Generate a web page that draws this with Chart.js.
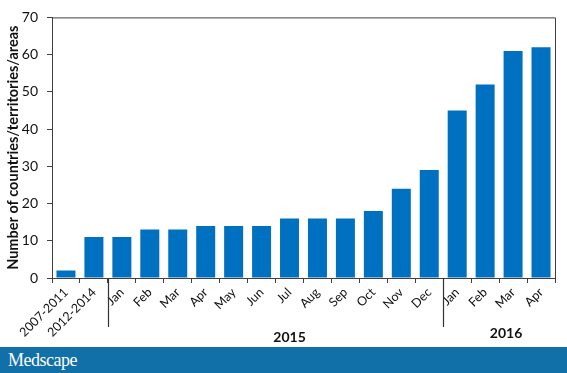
<!DOCTYPE html>
<html>
<head>
<meta charset="utf-8">
<script src="https://cdn.jsdelivr.net/npm/chart.js@4.4.1/dist/chart.umd.min.js"></script>
<style>
html,body{margin:0;padding:0;background:#fff;width:567px;height:373px;overflow:hidden;}
#wrap{position:relative;width:567px;height:347px;}
#footer{position:absolute;left:0;top:347px;width:567px;height:26px;background:#1170a7;}
#footer span{position:absolute;left:8px;top:3px;color:#fff;font-family:"Liberation Serif","DejaVu Serif",serif;font-size:18px;letter-spacing:-0.5px;}
</style>
</head>
<body>
<div id="wrap"><canvas id="c"></canvas></div>
<div id="footer"><span>Medscape</span></div>
<script>
const categories = ["2007-2011","2012-2014","Jan","Feb","Mar","Apr","May","Jun","Jul","Aug","Sep","Oct","Nov","Dec","Jan","Feb","Mar","Apr"];
const counts = [2,11,11,13,13,14,14,14,16,16,16,18,24,29,45,52,61,62];
const yTicks = [0,10,20,30,40,50,60,70];
const yearLabels = ["2015","2016"];
const yearPositions = [8, 15.75];
const separators = [1.5, 13.5];

const decor = {
  id:'decor',
  afterDraw(chart){
    const ctx = chart.ctx, a = chart.chartArea, xs = chart.scales.x;
    ctx.save();
    ctx.strokeStyle = '#404040';
    ctx.lineWidth = 1;
    ctx.beginPath();
    ctx.moveTo(a.left, a.top + 0.5);
    ctx.lineTo(a.right + 0.5, a.top + 0.5);
    ctx.lineTo(a.right + 0.5, a.bottom);
    ctx.stroke();
    ctx.strokeStyle = '#333';
    ctx.lineWidth = 1.2;
    separators.forEach(v=>{
      const x = Math.round(xs.getPixelForValue(v)) + 0.5;
      ctx.beginPath();
      ctx.moveTo(x, a.bottom);
      ctx.lineTo(x, a.bottom + 49);
      ctx.stroke();
    });
    ctx.fillStyle = '#111';
    ctx.font = 'bold 14px Lato';
    ctx.textAlign = 'center';
    ctx.textBaseline = 'middle';
    const ys = [a.bottom + 59, a.bottom + 55];
    yearLabels.forEach((t,i)=>{
      ctx.fillText(t, xs.getPixelForValue(yearPositions[i]), ys[i]);
    });
    ctx.restore();
  }
};

new Chart(document.getElementById('c'), {
  type:'bar',
  data:{labels:categories, datasets:[{data:counts, backgroundColor:'#0070c0', borderWidth:0, barPercentage:0.68, categoryPercentage:1}]},
  options:{
    responsive:true, maintainAspectRatio:false, animation:false,
    layout:{padding:{top:12,right:12,left:0,bottom:0}},
    plugins:{legend:{display:false}, tooltip:{enabled:false}},
    scales:{
      x:{
        grid:{display:true, drawOnChartArea:false, tickLength:5, color:'#404040', offset:true},
        border:{color:'#404040', width:1},
        ticks:{autoSkip:false, minRotation:45, maxRotation:45, color:'#111', font:{family:'Lato', size:12.5}, padding:2},
        afterFit(s){ s.height = 69; }
      },
      y:{
        min:0, max:70,
        afterBuildTicks(s){ s.ticks = yTicks.map(v=>({value:v})); },
        grid:{display:true, drawOnChartArea:false, tickLength:5, color:'#404040'},
        border:{color:'#404040', width:1},
        ticks:{color:'#111', font:{family:'Lato', size:14}, padding:9},
        title:{display:true, text:'Number of countries/territories/areas', color:'#111', font:{family:'Lato', size:14.5, weight:'bold'}, padding:{top:5,bottom:2}},
        afterFit(s){ s.width = 52; }
      }
    }
  },
  plugins:[decor]
});
</script>
</body>
</html>
